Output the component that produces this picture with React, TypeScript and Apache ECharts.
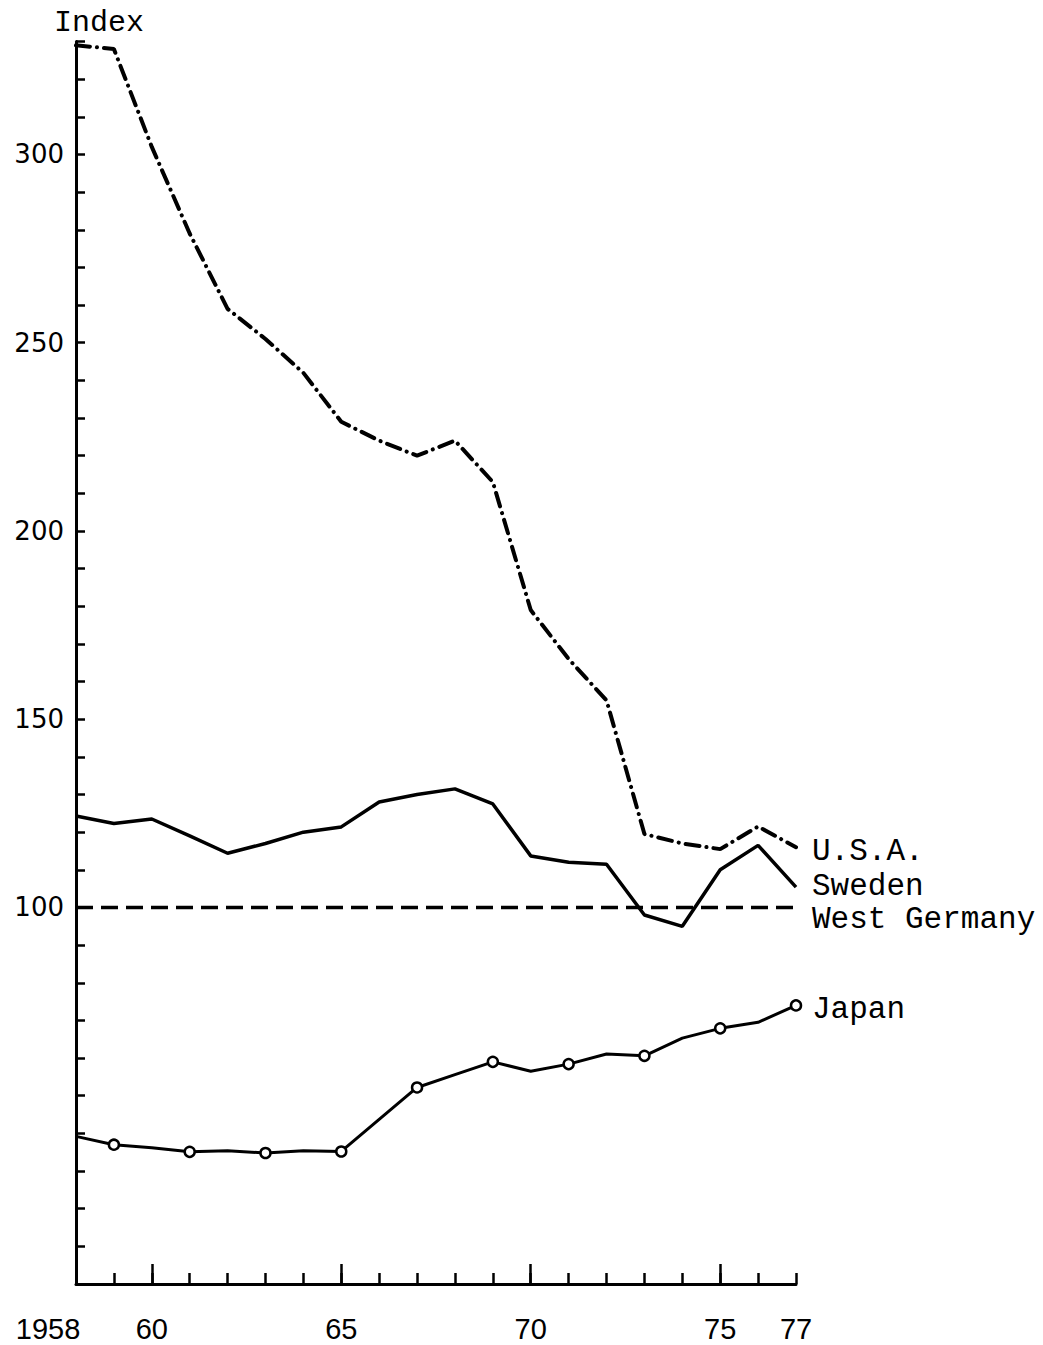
import React, { useEffect, useRef } from 'react';
import * as echarts from 'echarts';

const YEARS = ['1958', '1959', '1960', '1961', '1962', '1963', '1964', '1965', '1966', '1967',
  '1968', '1969', '1970', '1971', '1972', '1973', '1974', '1975', '1976', '1977'];

const USA = [329, 328, 302, 279, 259, 251, 242, 229, 224, 220, 224, 213, 179, 166, 155, 119.5, 117, 115.5, 121.5, 116];
const SWEDEN = [124.3, 122.3, 123.5, 119, 114.4, 117, 120, 121.4, 128, 130, 131.5, 127.5, 113.7, 112, 111.5, 98, 95, 110, 116.5, 105.4];
const WEST_GERMANY = [100, 100, 100, 100, 100, 100, 100, 100, 100, 100, 100, 100, 100, 100, 100, 100, 100, 100, 100, 100];
const JAPAN = [39.2, 37, 36.2, 35.1, 35.4, 34.8, 35.4, 35.2, 43.7, 52.2, 55.6, 59, 56.5, 58.4, 61.1, 60.6, 65.3, 67.9, 69.5, 74];
const JAPAN_MARKED = ['1959', '1961', '1963', '1965', '1967', '1969', '1971', '1973', '1975', '1977'];

const X_MAJOR_TICKS = ['1960', '1965', '1970', '1975'];
const X_LABELS = ['1958', '1960', '1965', '1970', '1975', '1977'];
const Y_LABELS = [100, 150, 200, 250, 300];

const MONO = '"Liberation Mono", "DejaVu Sans Mono", monospace';
const XFONT = '"Liberation Sans", Arial, sans-serif';

export default function App() {
  const ref = useRef<HTMLDivElement>(null);
  useEffect(() => {
    if (!ref.current) return;
    const chart = echarts.init(ref.current, null, { renderer: 'svg' });
    const endLabel = (text: string, dy: number) => ({
      show: true,
      formatter: text,
      distance: 16,
      offset: [0, dy],
      fontFamily: MONO,
      fontSize: 31,
      color: '#000',
    });
    chart.setOption({
      animation: false,
      backgroundColor: '#ffffff',
      grid: { left: 76, right: 247, top: 41.5, bottom: 61 },
      xAxis: [
        {
          type: 'category',
          data: YEARS,
          boundaryGap: false,
          position: 'bottom',
          axisLine: { lineStyle: { color: '#000', width: 3 } },
          axisTick: { show: true, inside: true, length: 11, interval: 0, lineStyle: { color: '#000', width: 2.5 } },
          axisLabel: { show: false },
          splitLine: { show: false },
        },
        {
          type: 'category',
          data: YEARS,
          boundaryGap: false,
          position: 'bottom',
          axisLine: { show: false },
          axisTick: {
            show: true,
            inside: true,
            length: 20,
            interval: (_i: number, v: string) => X_MAJOR_TICKS.includes(v),
            lineStyle: { color: '#000', width: 2.5 },
          },
          axisLabel: {
            interval: (_i: number, v: string) => X_LABELS.includes(v),
            formatter: (v: string) => (v === '1958' ? '{f|1958}' : v.slice(2)),
            margin: 30,
            fontFamily: XFONT,
            fontSize: 29,
            color: '#000',
            rich: {
              f: { fontFamily: XFONT, fontSize: 29, color: '#000', padding: [0, 56, 0, 0] },
            },
          },
          splitLine: { show: false },
        },
      ],
      yAxis: {
        type: 'value',
        min: 0,
        max: 330,
        interval: 10,
        name: 'Index',
        nameLocation: 'end',
        nameGap: 4,
        nameTextStyle: { fontFamily: MONO, fontSize: 30, color: '#000', padding: [0, 0, 0, 46] },
        axisLine: { show: true, lineStyle: { color: '#000', width: 3 } },
        axisTick: { show: true, inside: true, length: 9, lineStyle: { color: '#000', width: 2.5 } },
        splitLine: { show: false },
        axisLabel: {
          formatter: (v: number) => (Y_LABELS.includes(v) ? String(v) : ''),
          margin: 12,
          fontFamily: '"DejaVu Sans", sans-serif',
          fontSize: 26,
          color: '#000',
        },
      },
      series: [
        {
          name: 'U.S.A.',
          type: 'line',
          data: USA,
          symbol: 'none',
          lineStyle: { color: '#000', width: 4, type: [14, 7, 0.1, 7], cap: 'round' },
          endLabel: endLabel('U.S.A.', 4),
        },
        {
          name: 'Sweden',
          type: 'line',
          data: SWEDEN,
          symbol: 'none',
          lineStyle: { color: '#000', width: 3.5 },
          endLabel: endLabel('Sweden', -1),
        },
        {
          name: 'West Germany',
          type: 'line',
          data: WEST_GERMANY,
          symbol: 'none',
          lineStyle: { color: '#000', width: 3.5, type: [17, 8] },
          endLabel: endLabel('West Germany', 12),
        },
        {
          name: 'Japan',
          type: 'line',
          data: JAPAN.map((v, i) => ({
            value: v,
            symbol: JAPAN_MARKED.includes(YEARS[i]) ? 'circle' : 'none',
          })),
          showAllSymbol: true,
          symbolSize: 10,
          itemStyle: { color: '#fff', borderColor: '#000', borderWidth: 2.5 },
          lineStyle: { color: '#000', width: 3 },
          endLabel: endLabel('Japan', 4),
        },
      ],
    });
    return () => chart.dispose();
  }, []);
  return (
    <div
      ref={ref}
      style={{ position: 'absolute', left: 0, top: 0, width: 1043, height: 1345, background: '#fff' }}
    />
  );
}
